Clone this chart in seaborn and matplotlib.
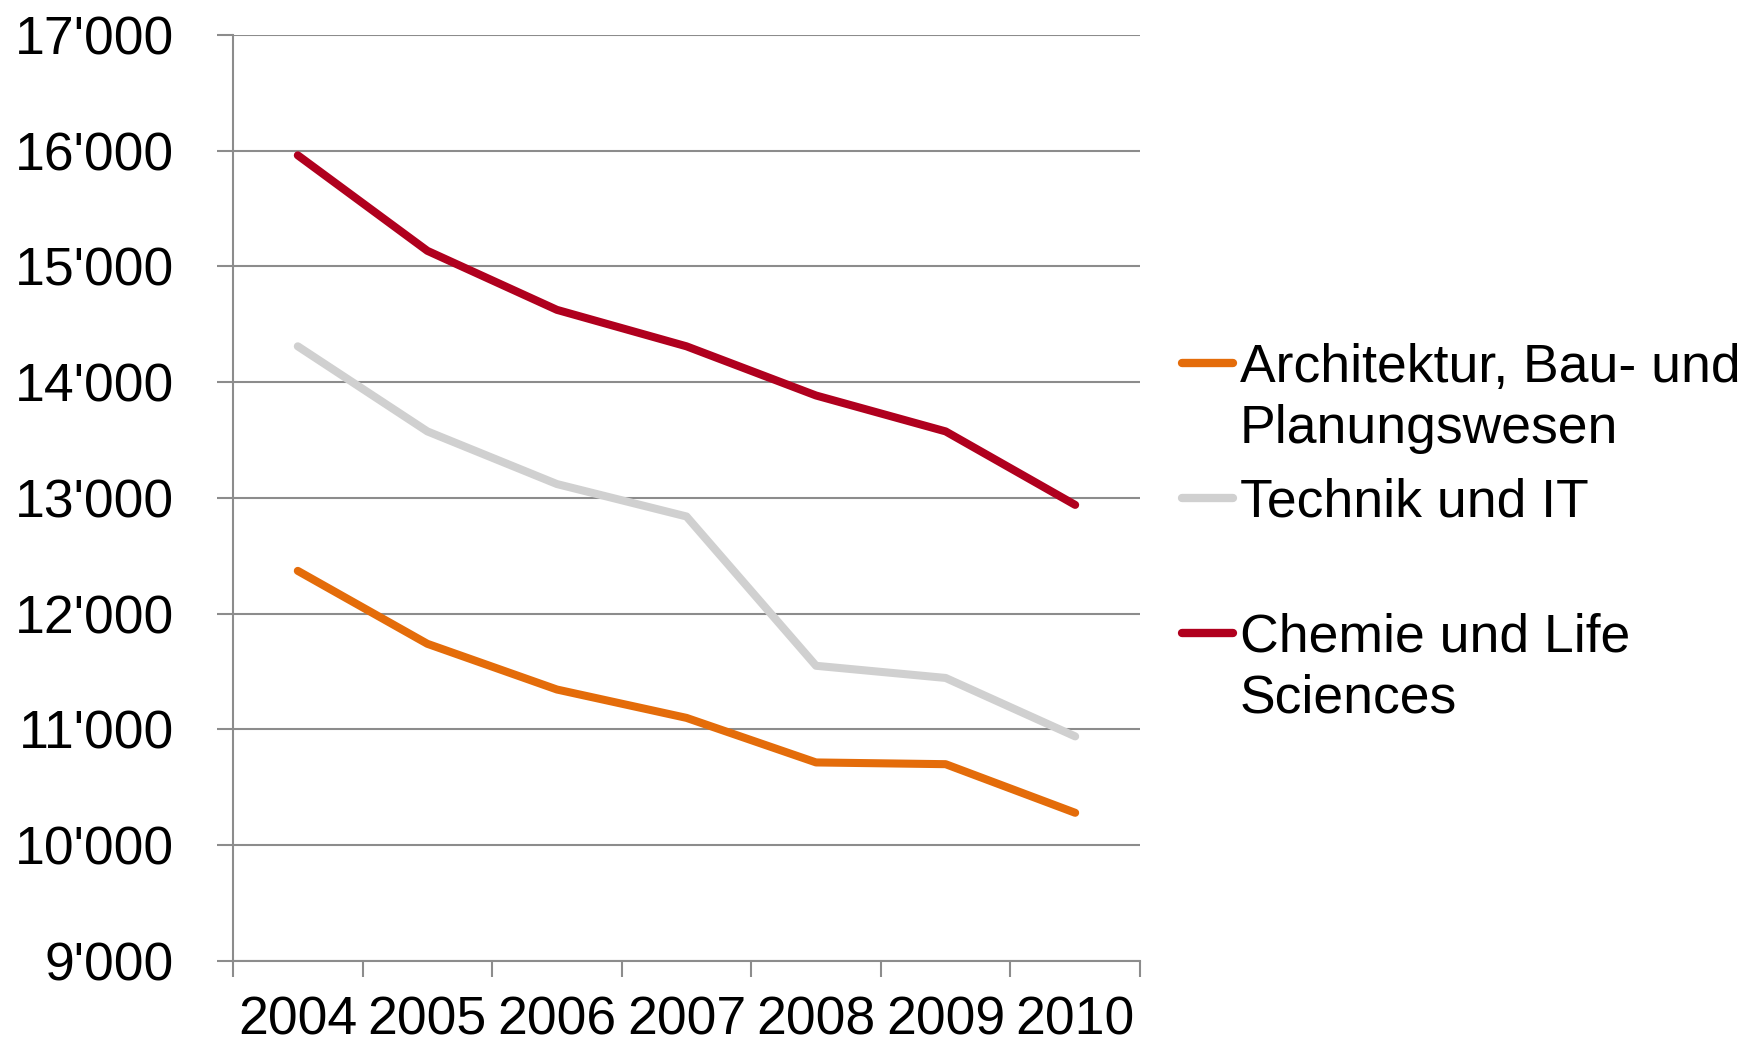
import numpy as np
import pandas as pd
import seaborn as sns
import matplotlib.pyplot as plt

years = ['2004', '2005', '2006', '2007', '2008', '2009', '2010']
architektur = [12370, 11740, 11345, 11100, 10715, 10700, 10280]
technik = [14310, 13575, 13120, 12840, 11550, 11445, 10940]
chemie = [15960, 15135, 14625, 14310, 13885, 13575, 12940]

labels = ['Architektur, Bau- und\nPlanungswesen', 'Technik und IT\n ', 'Chemie und Life\nSciences']
colors = ['#E46C0A', '#D0D0D0', '#B0001E']

df = pd.DataFrame({
    'Jahr': years * 3,
    'Wert': architektur + technik + chemie,
    'Bereich': [labels[0]] * 7 + [labels[1]] * 7 + [labels[2]] * 7,
})

sns.set_style("white")
plt.rcParams['font.family'] = ['Liberation Sans', 'DejaVu Sans']
plt.rcParams['text.color'] = 'black'

fig = plt.figure(figsize=(17.6, 10.46), dpi=100)
ax = fig.add_axes([0.1324, 0.0813, 0.5153, 0.8853])

grid_c = '#8C8C8C'
fs = 38.5
ax.set_axisbelow(True)
ax.yaxis.grid(True, color=grid_c, linewidth=1.5)

sns.lineplot(data=df, x='Jahr', y='Wert', hue='Bereich', palette=colors,
             linewidth=5.8, sort=False, ax=ax)
for line in ax.get_lines():
    line.set_solid_capstyle('round')

ax.set_xlim(-0.5, 6.5)
ax.set_ylim(9000, 17000)
yt = np.arange(9000, 17001, 1000)
ax.set_yticks(yt)
ax.set_yticklabels([f"{v:,.0f}".replace(",", "'") for v in yt])
ax.set_xticks(range(len(years)))
ax.set_xticklabels(years)
ax.set_xticks(np.arange(-0.5, len(years)), minor=True)

# x labels kept just inside the bottom edge
ax.tick_params(axis='x', which='major', length=0, pad=25, labelsize=fs, labelcolor='black')
ax.tick_params(axis='x', which='minor', length=11.5, width=1.5, color=grid_c, direction='out', bottom=True)
ax.tick_params(axis='y', length=11.5, width=1.5, color=grid_c, pad=31, labelsize=fs,
               labelcolor='black', left=True)

for s in ['top', 'right']:
    ax.spines[s].set_visible(False)
for s in ['left', 'bottom']:
    ax.spines[s].set_color(grid_c)
    ax.spines[s].set_linewidth(1.5)

ax.set_xlabel('')
ax.set_ylabel('')

handles, labs = ax.get_legend_handles_labels()
ax.get_legend().remove()
leg = fig.legend(handles, labs, loc='upper left', bbox_to_anchor=(0.6716, 0.672),
                 frameon=False, fontsize=fs, handlelength=0.95, handletextpad=0.13,
                 handleheight=0.85, labelspacing=0.45, borderpad=0, borderaxespad=0)
for h in leg.legend_handles:
    h.set_linewidth(6)
    h.set_solid_capstyle('round')
for t in leg.get_texts():
    t.set_linespacing(1.275)
    t.set_color('black')
for col in leg._legend_handle_box.get_children():
    for item in col.get_children():
        item.align = 'top'

fig.savefig('out.png', dpi=100)
